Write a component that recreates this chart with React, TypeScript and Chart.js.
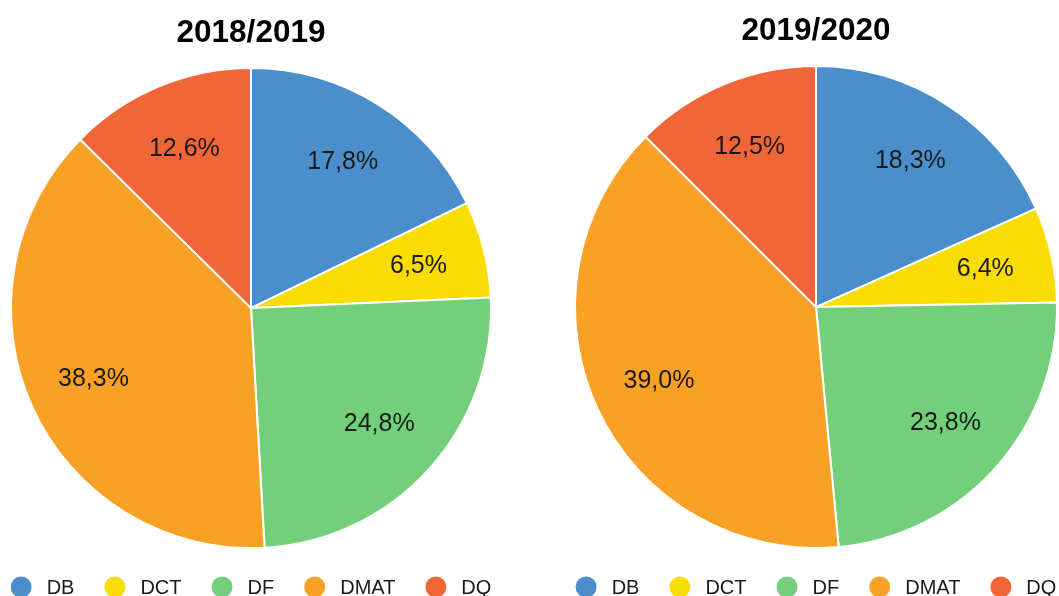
import React, { useEffect, useRef } from "react";
import { Chart, registerables } from "chart.js";

Chart.register(...registerables);

const categories = ["DB", "DCT", "DF", "DMAT", "DQ"];
const values2018 = [17.8, 6.5, 24.8, 38.3, 12.6];
const values2019 = [18.3, 6.4, 23.8, 39.0, 12.5];
const titles = ["2018/2019", "2019/2020"];
const colors = ["#4a8fcb", "#f9dc00", "#73cf7a", "#f9a127", "#f26537"];

const FONT = '"Liberation Sans", Arial, Helvetica, sans-serif';

const labelPlugin = {
  id: "sliceLabels",
  afterDatasetsDraw(chart: any) {
    const ctx = chart.ctx;
    const meta = chart.getDatasetMeta(0);
    const data = chart.data.datasets[0].data as number[];
    ctx.save();
    ctx.font = `25px ${FONT}`;
    ctx.fillStyle = "#1a1a1a";
    ctx.textAlign = "center";
    ctx.textBaseline = "middle";
    meta.data.forEach((arc: any, i: number) => {
      const { startAngle, endAngle, x, y, outerRadius } = arc.getProps(
        ["startAngle", "endAngle", "x", "y", "outerRadius"],
        true
      );
      const mid = (startAngle + endAngle) / 2;
      const r = outerRadius * 0.72;
      const txt = data[i].toFixed(1).replace(".", ",") + "%";
      ctx.fillText(txt, x + Math.cos(mid) * r, y + Math.sin(mid) * r);
    });
    ctx.restore();
  },
};

const legendPlugin = {
  id: "bottomLegend",
  afterDraw(chart: any, _args: any, opts: any) {
    const ctx = chart.ctx;
    const labels = chart.data.labels as string[];
    const bg = chart.data.datasets[0].backgroundColor as string[];
    ctx.save();
    ctx.font = `20px ${FONT}`;
    const R = 10.5;
    const gapText = 15;
    const gapItem = 30;
    const widths = labels.map((l) => 2 * R + gapText + ctx.measureText(l).width);
    const total = widths.reduce((a, b) => a + b, 0) + gapItem * (labels.length - 1);
    let x = (chart.chartArea.left + chart.chartArea.right) / 2 - total / 2;
    const y = opts.y;
    labels.forEach((l, i) => {
      ctx.beginPath();
      ctx.fillStyle = bg[i];
      ctx.arc(x + R, y, R, 0, Math.PI * 2);
      ctx.fill();
      ctx.fillStyle = "#1a1a1a";
      ctx.textAlign = "left";
      ctx.textBaseline = "alphabetic";
      ctx.fillText(l, x + 2 * R + gapText, y + 7);
      x += widths[i] + gapItem;
    });
    ctx.restore();
  },
};

type PieProps = {
  title: string;
  values: number[];
  left: number;
  width: number;
  height: number;
  radius: number;
  padTop: number;
  padBottom: number;
};

function PieChart({ title, values, left, width, height, radius, padTop, padBottom }: PieProps) {
  const ref = useRef<HTMLCanvasElement>(null);
  useEffect(() => {
    if (!ref.current) return;
    const chart = new Chart(ref.current, {
      type: "pie",
      data: {
        labels: categories,
        datasets: [
          {
            data: values,
            backgroundColor: colors,
            borderColor: "#ffffff",
            borderWidth: 2,
            radius: radius,
          } as any,
        ],
      },
      options: {
        responsive: false,
        animation: false,
        devicePixelRatio: 1,
        layout: { padding: { top: 0, bottom: 48, left: 0, right: 0 } },
        plugins: {
          legend: { display: false },
          tooltip: { enabled: false },
          title: {
            display: true,
            text: title,
            color: "#000000",
            font: { family: FONT, size: 31.5, weight: "bold" },
            padding: { top: padTop, bottom: padBottom },
          },
          bottomLegend: { y: 587 },
        } as any,
      },
      plugins: [labelPlugin, legendPlugin],
    });
    return () => chart.destroy();
  }, []);
  return (
    <canvas
      ref={ref}
      width={width}
      height={height}
      style={{ position: "absolute", left, top: 0, width, height, display: "block" }}
    />
  );
}

export default function App() {
  return (
    <div
      style={{
        position: "absolute",
        left: 0,
        top: 0,
        width: 1059,
        height: 596,
        overflow: "hidden",
        background: "#ffffff",
      }}
    >
      <PieChart title={titles[0]} values={values2018} left={0} width={502} height={596} radius={240} padTop={14} padBottom={16.4} />
      <PieChart title={titles[1]} values={values2019} left={565} width={502} height={596} radius={241} padTop={12} padBottom={16.4} />
    </div>
  );
}
